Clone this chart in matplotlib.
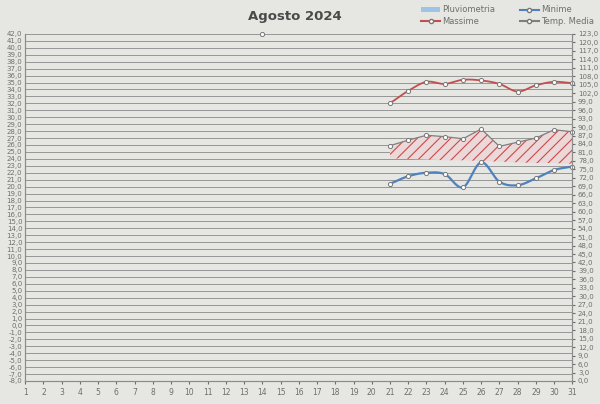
import numpy as np
import matplotlib
matplotlib.use('Agg')
import matplotlib.pyplot as plt
from matplotlib.patches import Patch
from matplotlib.lines import Line2D

giorni = list(range(1, 32))
giorni_dati = list(range(21, 32))

massime = [32.0, 33.8, 35.1, 34.8, 35.4, 35.3, 34.8, 33.7, 34.6, 35.1, 34.9]
minime = [20.4, 21.5, 22.0, 21.8, 19.9, 23.5, 20.7, 20.2, 21.2, 22.4, 22.9]
media = [25.9, 26.7, 27.4, 27.2, 26.9, 28.3, 25.8, 26.4, 27.0, 28.2, 27.9]
base_area = [24.1, 24.0, 23.9, 23.8, 23.8, 23.7, 23.6, 23.5, 23.4, 23.4, 23.3]
punto_giorno = [14]
punto_valore = [42.0]
pluviometria = []

sfondo = '#e6e6e3'
grigio_testo = '#6e6e6e'

plt.rcParams['hatch.linewidth'] = 0.8


def smooth(x, y, n=20):
    # curva tipo "linea smussata" di Excel (Catmull-Rom)
    x = np.asarray(x, float)
    y = np.asarray(y, float)
    px = np.concatenate([[2 * x[0] - x[1]], x, [2 * x[-1] - x[-2]]])
    py = np.concatenate([[2 * y[0] - y[1]], y, [2 * y[-1] - y[-2]]])
    xs, ys = [], []
    t = np.linspace(0, 1, n)
    for i in range(1, len(px) - 2):
        for arr, out in ((px, xs), (py, ys)):
            p0, p1, p2, p3 = arr[i - 1], arr[i], arr[i + 1], arr[i + 2]
            out.extend(0.5 * ((2 * p1) + (-p0 + p2) * t
                              + (2 * p0 - 5 * p1 + 4 * p2 - p3) * t ** 2
                              + (-p0 + 3 * p1 - 3 * p2 + p3) * t ** 3))
    return xs, ys


fig = plt.figure(figsize=(6, 4.04), dpi=100, facecolor=sfondo)
ax = fig.add_axes([0.042, 0.057, 0.912, 0.859], facecolor=sfondo)
ax2 = ax.twinx()

ax.set_xlim(1, 31)
ax.set_ylim(-8, 42)
ax2.set_ylim(0, 123)

# area tratteggiata
ax.fill_between(giorni_dati, base_area, media, facecolor='#ecd8d8',
                edgecolor='#cc4a4a', hatch='///', linewidth=0, zorder=2)

xs, ys = smooth(giorni_dati, massime)
ax.plot(xs, ys, color='#c0504d', lw=1.3, zorder=3, clip_on=False)
ax.plot(giorni_dati, massime, 'o', ms=3, mfc='white', mec='#777777', mew=0.7, zorder=4, clip_on=False)

xs, ys = smooth(giorni_dati, minime)
ax.plot(xs, ys, color='#4f81bd', lw=1.6, zorder=3, clip_on=False)
ax.plot(giorni_dati, minime, 'o', ms=3, mfc='white', mec='#777777', mew=0.7, zorder=4, clip_on=False)

ax.plot(giorni_dati, media, color='#7f7f7f', lw=0.9, zorder=3, clip_on=False)
ax.plot(giorni_dati, media, 'o', ms=3, mfc='white', mec='#777777', mew=0.7, zorder=4, clip_on=False)
ax.plot(punto_giorno, punto_valore, 'o', ms=3, mfc='white', mec='#777777', mew=0.7, zorder=4, clip_on=False)

ax2.bar(giorni[:len(pluviometria)], pluviometria, color='#9dc3e6')

# griglia e assi
ax.set_yticks(range(-8, 43))
ax.set_yticklabels([f'{v},0' for v in range(-8, 43)])
ax.grid(axis='y', color='#969696', lw=0.7)
ax.set_axisbelow(True)
ax.set_xticks(giorni)
ax.tick_params(axis='y', labelsize=5, colors=grigio_testo, length=0, pad=2)
ax.tick_params(axis='x', labelsize=5.5, colors=grigio_testo, length=2, pad=3)
ax2.set_yticks(range(0, 124, 3))
ax2.set_yticklabels([f'{v},0' for v in range(0, 124, 3)])
ax2.tick_params(axis='y', labelsize=5, colors=grigio_testo, length=2, pad=2)

for a in (ax, ax2):
    a.spines['top'].set_visible(False)
    for s in ('left', 'right', 'bottom'):
        a.spines[s].set_color('#8c8c8c')
        a.spines[s].set_linewidth(0.8)

fig.text(0.492, 0.958, 'Agosto 2024', ha='center', va='center',
         fontsize=9.5, fontweight='bold', color='#4a4a4a')

handles = [
    Patch(facecolor='#9dc3e6', edgecolor='none'),
    Line2D([], [], color='#c0504d', marker='o', ms=3, mfc='white', mec='#777777'),
    Line2D([], [], color='#4f81bd', marker='o', ms=3, mfc='white', mec='#777777'),
    Line2D([], [], color='#7f7f7f', marker='o', ms=3, mfc='white', mec='#777777'),
]
labels = ['Pluviometria', 'Massime', 'Minime', 'Temp. Media']
fig.legend(handles, labels, ncol=2, loc='upper left', bbox_to_anchor=(0.69, 1.005),
           frameon=False, fontsize=6, labelcolor=grigio_testo, handlelength=2.2,
           handleheight=0.4, columnspacing=3.0, labelspacing=0.3, handletextpad=0.3)

fig.savefig('out.png', dpi=100, facecolor=sfondo)
